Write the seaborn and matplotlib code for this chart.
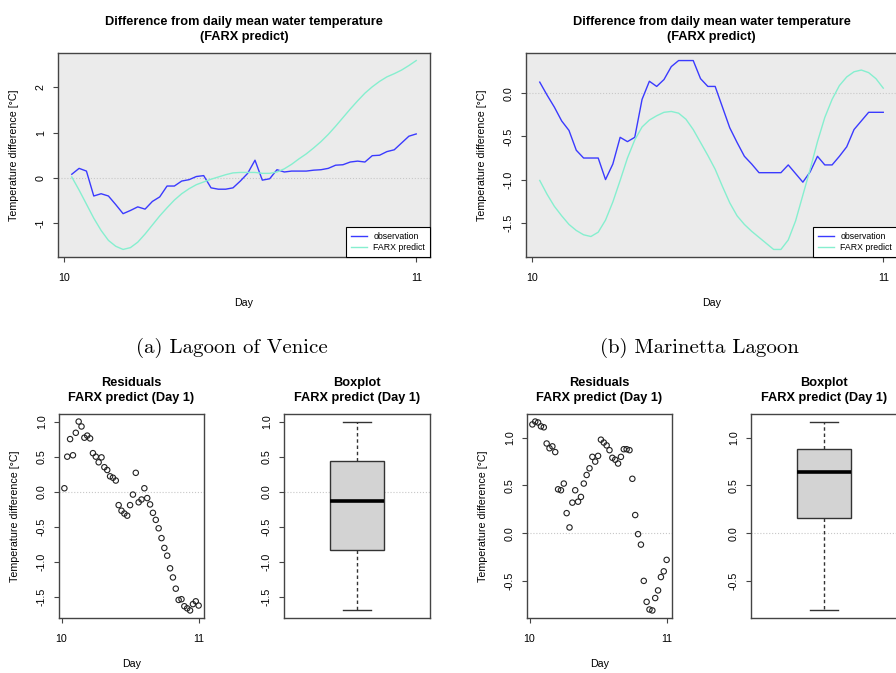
import numpy as np
import pandas as pd
import seaborn as sns
import matplotlib.pyplot as plt
from matplotlib.ticker import FixedLocator, FormatStrFormatter

# half-hourly steps of day 10 -> 11
step = np.arange(1, 49)
day = 10 + step / 48

# Lagoon of Venice
venice_obs = [0.08, 0.21, 0.15, -0.40, -0.35, -0.40, -0.59, -0.79, -0.72, -0.64, -0.69, -0.52,
              -0.42, -0.18, -0.18, -0.07, -0.04, 0.03, 0.05, -0.22, -0.25, -0.25, -0.22, -0.07,
              0.10, 0.39, -0.05, -0.02, 0.18, 0.13, 0.15, 0.15, 0.15, 0.17, 0.18, 0.21,
              0.28, 0.29, 0.35, 0.37, 0.35, 0.49, 0.50, 0.58, 0.62, 0.77, 0.92, 0.97]
venice_pred = [0.02, -0.27, -0.58, -0.89, -1.16, -1.38, -1.51, -1.58, -1.54, -1.42, -1.24, -1.04,
               -0.84, -0.66, -0.49, -0.35, -0.24, -0.15, -0.09, -0.03, 0.02, 0.07, 0.11, 0.12,
               0.12, 0.12, 0.10, 0.10, 0.13, 0.20, 0.30, 0.42, 0.53, 0.66, 0.80, 0.96,
               1.14, 1.33, 1.52, 1.70, 1.87, 2.01, 2.13, 2.23, 2.30, 2.38, 2.48, 2.59]
venice_resid = [0.05, 0.50, 0.75, 0.52, 0.84, 1.00, 0.93, 0.77, 0.80, 0.76, 0.55, 0.50,
                0.42, 0.49, 0.35, 0.31, 0.22, 0.20, 0.16, -0.19, -0.27, -0.31, -0.34, -0.19,
                -0.04, 0.27, -0.15, -0.11, 0.05, -0.09, -0.18, -0.30, -0.40, -0.52, -0.66, -0.80,
                -0.91, -1.09, -1.22, -1.38, -1.54, -1.53, -1.63, -1.66, -1.69, -1.60, -1.56, -1.62]

# Marinetta Lagoon
marinetta_obs = [0.13, -0.02, -0.16, -0.32, -0.43, -0.66, -0.75, -0.75, -0.75, -1.00, -0.82, -0.51,
                 -0.56, -0.51, -0.07, 0.14, 0.08, 0.16, 0.31, 0.38, 0.38, 0.38, 0.17, 0.08,
                 0.08, -0.16, -0.40, -0.57, -0.73, -0.82, -0.92, -0.92, -0.92, -0.92, -0.83, -0.93,
                 -1.03, -0.91, -0.73, -0.83, -0.83, -0.73, -0.62, -0.42, -0.32, -0.22, -0.22, -0.22]
marinetta_pred = [-1.01, -1.17, -1.31, -1.42, -1.52, -1.59, -1.64, -1.66, -1.61, -1.47, -1.26, -1.01,
                  -0.75, -0.54, -0.39, -0.31, -0.26, -0.22, -0.21, -0.23, -0.30, -0.42, -0.57, -0.72,
                  -0.88, -1.08, -1.27, -1.42, -1.52, -1.60, -1.67, -1.74, -1.81, -1.81, -1.70, -1.48,
                  -1.18, -0.88, -0.56, -0.28, -0.07, 0.09, 0.19, 0.25, 0.27, 0.24, 0.17, 0.06]
marinetta_resid = [1.14, 1.17, 1.16, 1.12, 1.11, 0.94, 0.89, 0.91, 0.85, 0.46, 0.45, 0.52,
                   0.21, 0.06, 0.32, 0.45, 0.33, 0.38, 0.52, 0.61, 0.68, 0.80, 0.75, 0.81,
                   0.98, 0.95, 0.92, 0.87, 0.79, 0.77, 0.73, 0.80, 0.88, 0.88, 0.87, 0.57,
                   0.19, -0.01, -0.12, -0.50, -0.72, -0.80, -0.81, -0.68, -0.60, -0.46, -0.40, -0.28]

venice_yticks = [-1, 0, 1, 2]
marinetta_yticks = [-1.5, -1.0, -0.5, 0.0]
venice_res_ticks = [-1.5, -1.0, -0.5, 0.0, 0.5, 1.0]
marinetta_res_ticks = [-0.5, 0.0, 0.5, 1.0]

plt.rcParams['font.family'] = ['Liberation Sans', 'DejaVu Sans']
plt.rcParams['axes.unicode_minus'] = False

W, H = 896, 673
fig = plt.figure(figsize=(W / 100, H / 100), dpi=100)
FS = 7.7
EDGE = '#444444'


def add_ax(l, t, r, b):
    return fig.add_axes([l / W, 1 - b / H, (r - l) / W, (b - t) / H])


def rlim(vals):
    lo, hi = np.min(vals), np.max(vals)
    d = (hi - lo) * 0.04
    return lo - d, hi + d


def style(ax, title, yticks, fmt, xlab=True):
    for s in ax.spines.values():
        s.set_color(EDGE)
        s.set_linewidth(1.0)
    ax.tick_params(direction='out', length=3.8, width=0.8, color=EDGE, labelsize=FS, pad=5)
    ax.tick_params(axis='x', pad=8)
    ax.tick_params(axis='y', labelrotation=90)
    ax.yaxis.set_major_locator(FixedLocator(yticks))
    ax.yaxis.set_major_formatter(FormatStrFormatter(fmt))
    for lab in ax.get_yticklabels():
        lab.set_va('center')
    bb = ax.get_position()
    wpx, hpx = bb.width * W, bb.height * H
    if xlab:
        ax.set_xticks([10, 11])
        ax.set_xticklabels(['10', '11'])
        ax.set_xlabel('Day', fontsize=FS)
        ax.xaxis.label.set_va('center')
        ax.xaxis.set_label_coords(0.5, -46 / hpx)
        ax.set_ylabel('Temperature difference [°C]', fontsize=FS)
        ax.yaxis.label.set_va('center')
        ax.yaxis.set_label_coords(-44 / wpx, 0.5)
    else:
        ax.set_xticks([])
        ax.set_xlabel('')
        ax.set_ylabel('')
    ax.set_title(title, fontsize=9.2, fontweight='bold', pad=9.5, linespacing=1.31)
    ax.axhline(0, color='#c8c8c8', ls=':', lw=0.8, zorder=0.5)


def top_panel(ax, obs, pred, yticks, fmt):
    df = pd.DataFrame({'day': np.concatenate([day, day]),
                       'value': np.concatenate([obs, pred]),
                       'series': ['observation'] * len(day) + ['FARX predict'] * len(day)})
    ax.set_facecolor('#ebebeb')
    sns.lineplot(data=df, x='day', y='value', hue='series',
                 palette={'observation': '#3a3aff', 'FARX predict': '#86efcf'},
                 linewidth=1.0, ax=ax)
    ax.set_xlim(rlim(day))
    ax.set_ylim(rlim(np.concatenate([obs, pred])))
    style(ax, 'Difference from daily mean water temperature\n(FARX predict)', yticks, fmt)
    h, l = ax.get_legend_handles_labels()
    leg = ax.legend(h, l, loc='lower right', fontsize=6.3, frameon=True, fancybox=False,
                    edgecolor='black', framealpha=1, borderaxespad=0, handlelength=1.9,
                    handletextpad=0.7, labelspacing=0.25, borderpad=0.55)
    leg.get_frame().set_linewidth(0.8)


def resid_panel(ax, resid, yticks):
    sns.scatterplot(x=day, y=resid, ax=ax, marker='o', s=15, facecolors='none',
                    edgecolor='#222222', linewidth=0.8)
    ax.set_xlim(rlim(day))
    ax.set_ylim(rlim(resid))
    style(ax, 'Residuals\nFARX predict (Day 1)', yticks, '%.1f')


def box_panel(ax, resid, yticks):
    sns.boxplot(y=resid, ax=ax, width=0.37, color='#d3d3d3', saturation=1,
                linecolor='#333333', linewidth=1.0, showfliers=False,
                whiskerprops={'linestyle': (0, (2.5, 2))},
                medianprops={'linewidth': 2.6, 'color': 'black'})
    ax.set_xlim(-0.5, 0.5)
    ax.set_ylim(rlim(resid))
    style(ax, 'Boxplot\nFARX predict (Day 1)', yticks, '%.1f', xlab=False)


top_panel(add_ax(58, 53, 430, 257), venice_obs, venice_pred, venice_yticks, '%d')
top_panel(add_ax(526, 53, 897, 257), marinetta_obs, marinetta_pred, marinetta_yticks, '%.1f')
resid_panel(add_ax(59, 414, 204, 618), venice_resid, venice_res_ticks)
box_panel(add_ax(284, 414, 430, 618), venice_resid, venice_res_ticks)
resid_panel(add_ax(527, 414, 672, 618), marinetta_resid, marinetta_res_ticks)
box_panel(add_ax(751, 414, 897, 618), marinetta_resid, marinetta_res_ticks)

fig.text(232 / W, 1 - 348 / H, '(a) Lagoon of Venice', family='cmr10', fontsize=15,
         ha='center', va='center')
fig.text(699 / W, 1 - 348 / H, '(b) Marinetta Lagoon', family='cmr10', fontsize=15,
         ha='center', va='center')

fig.savefig('out.png', dpi=100)
